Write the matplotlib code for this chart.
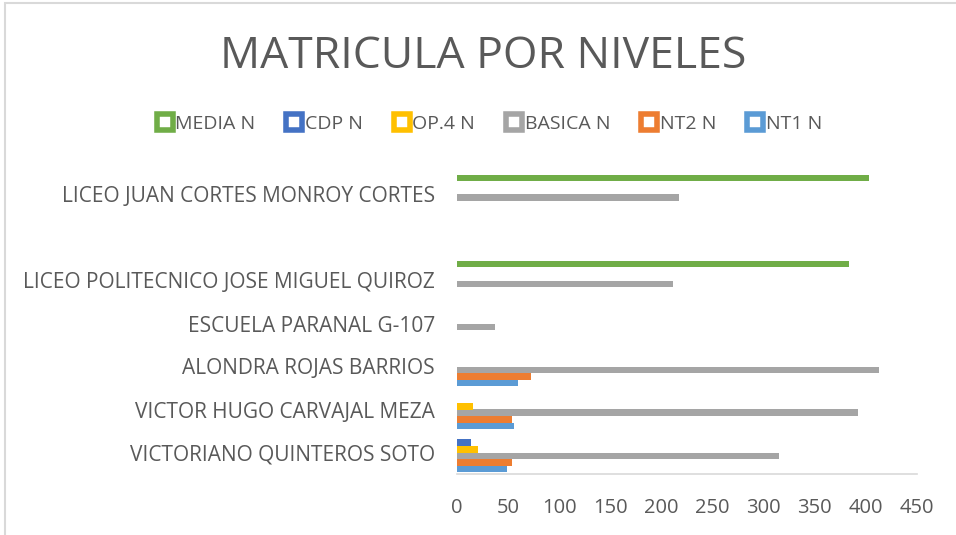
import numpy as np
import matplotlib
matplotlib.use("Agg")
import matplotlib.pyplot as plt
from matplotlib.lines import Line2D
from matplotlib.patches import Rectangle

plt.rcParams['font.family'] = ['Open Sans', 'DejaVu Sans']

# categories, bottom to top (one blank slot as in the source sheet)
schools = ['VICTORIANO QUINTEROS SOTO', 'VICTOR HUGO CARVAJAL MEZA',
           'ALONDRA ROJAS BARRIOS', 'ESCUELA PARANAL G-107',
           'LICEO POLITECNICO JOSE MIGUEL QUIROZ', '',
           'LICEO JUAN CORTES MONROY CORTES']

series = ['NT1 N', 'NT2 N', 'BASICA N', 'OP.4 N', 'CDP N', 'MEDIA N']
colors = ['#5B9BD5', '#ED7D31', '#A5A5A5', '#FFC000', '#4472C4', '#70AD47']

nt1 = [49, 56, 60, 0, 0, 0, 0]
nt2 = [54, 54, 72, 0, 0, 0, 0]
basica = [315, 392, 413, 37, 211, 0, 217]
op4 = [21, 16, 0, 0, 0, 0, 0]
cdp = [14, 0, 0, 0, 0, 0, 0]
media = [0, 0, 0, 0, 383, 0, 403]
values = [nt1, nt2, basica, op4, cdp, media]

fig = plt.figure(figsize=(9.56, 5.35), dpi=100)
ax = fig.add_axes([457/956, 61/535, 460/956, 301/535])

y = np.arange(len(schools))
h = 0.155
for i, (name, vals) in enumerate(zip(series, values)):
    ax.barh(y + (i - 2.5) * h, vals, height=h, color=colors[i], label=name)

ax.set_xlim(0, 450)
ax.set_ylim(-0.5, len(schools) - 0.5)
ax.set_xticks(range(0, 451, 50))
ax.set_yticks(y)
ax.set_yticklabels(schools)
ax.tick_params(axis='x', colors='#595959', labelsize=14.5, length=0, pad=17)
ax.tick_params(axis='y', colors='#595959', labelsize=15, length=0, pad=16)
for s in ['top', 'right', 'left']:
    ax.spines[s].set_visible(False)
ax.spines['bottom'].set_color('#D9D9D9')
ax.spines['bottom'].set_linewidth(1.2)

fig.suptitle('MATRICULA POR NIVELES', x=0.505, y=0.936, fontsize=32, color='#595959')

handles = [Line2D([], [], marker='s', linestyle='none', markersize=11,
                  markerfacecolor='white', markeredgecolor=colors[i], markeredgewidth=4)
           for i in range(len(series))][::-1]
fig.legend(handles, series[::-1], loc='center', bbox_to_anchor=(0.512, 1 - 124/535),
           ncol=6, frameon=False, fontsize=14, labelcolor='#595959',
           handlelength=0.8, handletextpad=0.15, columnspacing=1.6)

fig.patches.append(Rectangle((5/956, -0.1), 1.2, 1 - 3/535 + 0.1, transform=fig.transFigure,
                             fill=False, edgecolor='#D9D9D9', linewidth=1.5))

fig.savefig('out.png', dpi=100)
